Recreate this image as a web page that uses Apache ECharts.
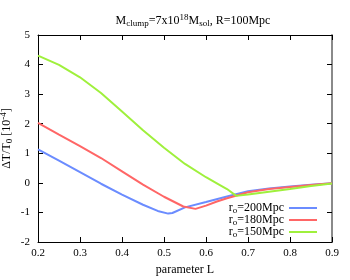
<!DOCTYPE html>
<html><head><meta charset="utf-8">
<script src="https://cdn.jsdelivr.net/npm/echarts@6/dist/echarts.min.js"></script>
<style>html,body{margin:0;padding:0;background:#fff}#c{width:350px;height:280px}</style>
</head><body><div id="c"></div>
<script>
const xTicks = [0.2, 0.3, 0.4, 0.5, 0.6, 0.7, 0.8, 0.9];
const yTicks = [-2, -1, 0, 1, 2, 3, 4, 5];
const seriesNames = ['200Mpc', '180Mpc', '150Mpc'];
const L200 = [0.20, 0.25, 0.30, 0.35, 0.40, 0.45, 0.485, 0.51, 0.52, 0.55, 0.60, 0.65, 0.70, 0.75, 0.80, 0.85, 0.90];
const V200 = [1.13, 0.75, 0.36, -0.03, -0.40, -0.74, -0.95, -1.04, -1.02, -0.83, -0.65, -0.46, -0.28, -0.19, -0.12, -0.06, -0.01];
const L180 = [0.20, 0.25, 0.30, 0.35, 0.40, 0.45, 0.50, 0.546, 0.575, 0.60, 0.626, 0.65, 0.70, 0.75, 0.80, 0.85, 0.90];
const V180 = [2.03, 1.63, 1.24, 0.84, 0.39, -0.06, -0.47, -0.80, -0.88, -0.77, -0.63, -0.52, -0.32, -0.21, -0.14, -0.07, -0.01];
const L150 = [0.20, 0.25, 0.30, 0.35, 0.40, 0.45, 0.50, 0.55, 0.60, 0.63, 0.65, 0.672, 0.70, 0.75, 0.80, 0.85, 0.90];
const V150 = [4.30, 3.99, 3.57, 3.04, 2.41, 1.78, 1.19, 0.64, 0.19, -0.05, -0.21, -0.44, -0.39, -0.30, -0.21, -0.11, -0.02];
const colors = ['#6b8cff', '#ff6666', '#9ff03c'];

const pairs = (xs, ys) => xs.map((x, i) => [x, ys[i]]);
const font = 'Liberation Serif';
const chart = echarts.init(document.getElementById('c'));
const tickIn = {show: true, inside: true, length: 5, lineStyle: {color: '#000'}};
const series = [[L200, V200], [L180, V180], [L150, V150]].map((d, i) => ({
  name: seriesNames[i], type: 'line', data: pairs(d[0], d[1]), showSymbol: false, symbol: 'none',
  smooth: false,
  lineStyle: {color: colors[i], width: 2}, itemStyle: {color: colors[i]}, animation: false
}));
chart.setOption({
  animation: false,
  textStyle: {fontFamily: font},
  title: {
    text: '{a|M}{s|clump}{a|=7x10}{p|18}{a|M}{s|sol}{a|, R=100Mpc}',
    left: 188, top: 8, textAlign: 'center',
    textStyle: {fontWeight: 'normal', rich: {
      a: {fontFamily: font, fontSize: 12, color: '#000', fontWeight: 'normal'},
      s: {fontFamily: font, fontSize: 9, color: '#000', fontWeight: 'normal', verticalAlign: 'bottom', padding: [6, 0, 0, 0]},
      p: {fontFamily: font, fontSize: 9, color: '#000', fontWeight: 'normal', verticalAlign: 'top', padding: [0, 0, 6, 0]}
    }}
  },
  legend: {
    right: 28, bottom: 36, orient: 'vertical', align: 'right', itemGap: -1,
    itemWidth: 28, itemHeight: 2, icon: 'rect',
    data: seriesNames,
    formatter: n => '{a|r}{s|o}{a|=' + n + '}',
    textStyle: {rich: {
      a: {fontFamily: font, fontSize: 12, color: '#000'},
      s: {fontFamily: font, fontSize: 9, color: '#000', verticalAlign: 'bottom', padding: [5, 0, 0, 0]}
    }}
  },
  grid: {left: 38, right: 18, top: 35, bottom: 38, containLabel: false, outerBoundsMode: 'none'},
  xAxis: [{
    type: 'value', min: 0.2, max: 0.9, interval: 0.1, position: 'bottom',
    axisLine: {show: true, onZero: false, lineStyle: {color: '#000', width: 1}},
    axisTick: tickIn, splitLine: {show: false},
    axisLabel: {color: '#000', fontFamily: font, fontSize: 11, margin: 6, formatter: v => v.toFixed(1)},
    name: 'parameter L', nameLocation: 'middle', nameGap: 22, nameMoveOverlap: false,
    nameTextStyle: {color: '#000', fontFamily: font, fontSize: 12}
  }, {
    type: 'value', min: 0.2, max: 0.9, interval: 0.1, position: 'top',
    axisLine: {show: true, onZero: false, lineStyle: {color: '#000', width: 1}},
    axisTick: tickIn, splitLine: {show: false}, axisLabel: {show: false}
  }],
  yAxis: [{
    type: 'value', min: -2, max: 5, interval: 1, position: 'left',
    axisLine: {show: true, onZero: false, lineStyle: {color: '#000', width: 1}},
    axisTick: tickIn, splitLine: {show: false},
    axisLabel: {color: '#000', fontFamily: font, fontSize: 11, margin: 8},
    name: '{a|ΔT/T}{s|0}{a| [10}{p|-4}{a|]}', nameLocation: 'middle', nameGap: 24, nameRotate: 90,
    nameMoveOverlap: false,
    nameTextStyle: {rich: {
      a: {fontFamily: font, fontSize: 12, color: '#000'},
      s: {fontFamily: font, fontSize: 9, color: '#000', verticalAlign: 'bottom', padding: [6, 0, 0, 0]},
      p: {fontFamily: font, fontSize: 9, color: '#000', verticalAlign: 'top', padding: [0, 0, 6, 0]}
    }}
  }, {
    type: 'value', min: -2, max: 5, interval: 1, position: 'right',
    axisLine: {show: true, onZero: false, lineStyle: {color: '#8a8a8a', width: 2}},
    axisTick: {show: true, inside: true, length: 5, lineStyle: {color: '#000'}},
    splitLine: {show: false}, axisLabel: {show: false}
  }],
  series: series
});
</script></body></html>
